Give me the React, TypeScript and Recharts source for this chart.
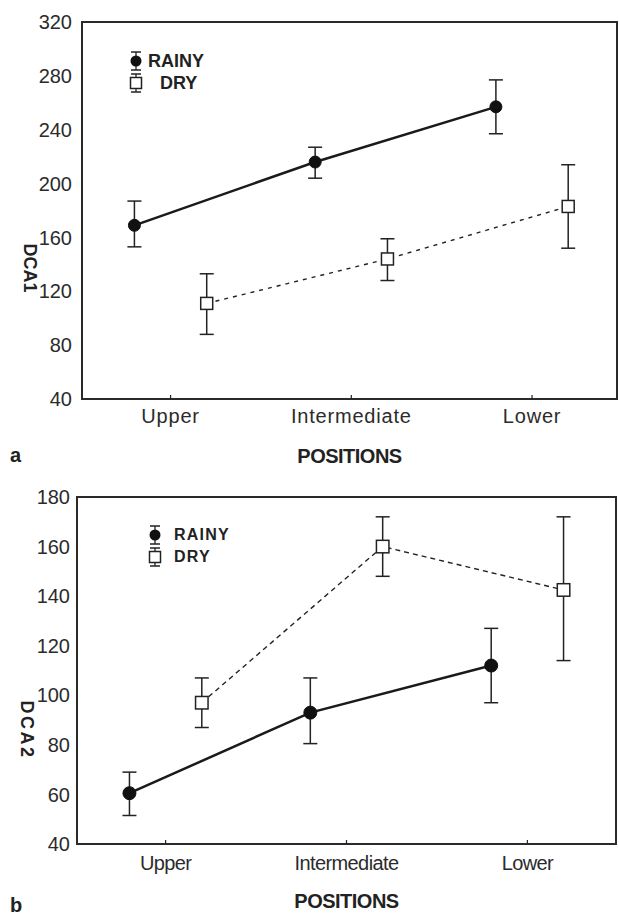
import React from 'react'
import { LineChart, Line, XAxis, YAxis, ErrorBar, ReferenceArea, Legend } from 'recharts'

const positions = ['Upper', 'Intermediate', 'Lower']
const seasons = ['RAINY', 'DRY']

// panel a - DCA1 (mean, lower and upper end of the bar)
const rainyDca1 = [169, 216, 257]
const rainyDca1Low = [153, 204, 237]
const rainyDca1High = [187, 227, 277]
const dryDca1 = [111, 144, 183]
const dryDca1Low = [88, 128, 152]
const dryDca1High = [133, 159, 214]
const dca1Ticks = [40, 80, 120, 160, 200, 240, 280, 320]

// panel b - DCA2
const rainyDca2 = [60.5, 93, 112]
const rainyDca2Low = [51.5, 80.5, 97]
const rainyDca2High = [69, 107, 127]
const dryDca2 = [97, 160, 142.5]
const dryDca2Low = [87, 148, 114]
const dryDca2High = [107, 172, 172]
const dca2Ticks = [40, 60, 80, 100, 120, 140, 160, 180]

const FONT = '"Liberation Sans", Arial, sans-serif'
const INK = '#222'
// rainy sits left of each position, dry to the right
const DODGE = 0.2

const toRows = (means: number[], low: number[], high: number[], shift: number) =>
  means.map((v, i) => ({ x: i + shift, y: v, err: [v - low[i], high[i] - v] }))

const squareDot = (size: number) => (props: any) => {
  const { cx, cy, key } = props
  if (cx == null || cy == null) return <g key={key} />
  return (
    <rect key={key} x={cx - size / 2} y={cy - size / 2} width={size} height={size}
      fill="#fff" stroke={INK} strokeWidth={1.5} />
  )
}

function LegendIcon({ kind }: { kind: string }) {
  return (
    <svg width={16} height={22} style={{ display: 'block' }}>
      <line x1={8} y1={2} x2={8} y2={20} stroke={INK} strokeWidth={1.3} />
      <line x1={3} y1={2} x2={13} y2={2} stroke={INK} strokeWidth={1.5} />
      <line x1={3} y1={20} x2={13} y2={20} stroke={INK} strokeWidth={1.5} />
      {kind === 'RAINY'
        ? <circle cx={8} cy={11} r={5.5} fill="#111" />
        : <rect x={2.5} y={5.5} width={11} height={11} fill="#fff" stroke={INK} strokeWidth={1.5} />}
    </svg>
  )
}

function makeLegend(fontSize: number, spacing: number, gap: number, dryIndent: number) {
  return ({ payload }: any) => {
    const items = [...(payload || [])].sort(
      (a: any, b: any) => seasons.indexOf(a.value) - seasons.indexOf(b.value)
    )
    return (
      <div style={{ fontFamily: FONT, fontWeight: 'bold', fontSize, letterSpacing: spacing, color: INK }}>
        {items.map((entry: any) => (
          <div key={entry.value} style={{ display: 'flex', alignItems: 'center', height: 22 }}>
            <LegendIcon kind={entry.value} />
            <span style={{ marginLeft: gap + (entry.value === 'DRY' ? dryIndent : 0), lineHeight: '22px' }}>
              {entry.value}
            </span>
          </div>
        ))}
      </div>
    )
  }
}

interface PanelProps {
  top: number
  height: number
  margin: { top: number; right: number; bottom: number; left: number }
  yAxisWidth: number
  xAxisHeight: number
  yDomain: [number, number]
  xDomain: [number, number]
  yTicks: number[]
  yTickMargin: number
  xTickMargin: number
  xLetterSpacing: number
  rainy: any[]
  dry: any[]
  dotR: number
  squareSize: number
  dash: string
  yLabel: string
  yLabelX: number
  yLabelY: number
  yLabelSpacing: number
  titleOffset: number
  legendPos: { left: number; top: number }
  legendFont: number
  legendSpacing: number
  legendGap: number
  dryIndent: number
  tag: string
  tagTop: number
}

function Panel(p: PanelProps) {
  return (
    <div style={{ position: 'absolute', left: 0, top: p.top, width: 619, height: p.height }}>
      <LineChart width={619} height={p.height} margin={p.margin}>
        <XAxis
          type="number"
          dataKey="x"
          domain={p.xDomain}
          ticks={[0, 1, 2]}
          interval={0}
          tickFormatter={(i: number) => positions[i]}
          axisLine={false}
          tickLine={{ stroke: INK, strokeWidth: 1.2 }}
          tickSize={-4}
          tickMargin={p.xTickMargin}
          height={p.xAxisHeight}
          tick={{ fontSize: 20, fill: '#2b2b2b', fontFamily: FONT, letterSpacing: p.xLetterSpacing }}
          label={{
            value: 'POSITIONS',
            position: 'insideBottom',
            offset: p.titleOffset,
            style: { fontSize: 20, fontWeight: 'bold', fill: INK, fontFamily: FONT, letterSpacing: -0.5 },
          }}
        />
        <YAxis
          type="number"
          domain={p.yDomain}
          ticks={p.yTicks}
          interval={0}
          width={p.yAxisWidth}
          axisLine={false}
          tickLine={false}
          tickMargin={p.yTickMargin}
          tick={{ fontSize: 20, fill: '#2b2b2b', fontFamily: FONT }}
          label={{
            value: p.yLabel,
            content: () => (
              <text x={p.yLabelX} y={p.yLabelY} transform={`rotate(90, ${p.yLabelX}, ${p.yLabelY})`}
                textAnchor="middle" fontSize={18} fontWeight="bold" fill={INK}
                fontFamily={FONT} letterSpacing={p.yLabelSpacing}>
                {p.yLabel}
              </text>
            ),
          }}
        />
        <ReferenceArea x1={p.xDomain[0]} x2={p.xDomain[1]} y1={p.yDomain[0]} y2={p.yDomain[1]}
          fill="none" stroke="#2a2a2a" strokeWidth={2} />
        <Legend
          layout="vertical"
          align="center"
          verticalAlign="middle"
          wrapperStyle={{ left: p.legendPos.left, top: p.legendPos.top, width: 'auto' }}
          content={makeLegend(p.legendFont, p.legendSpacing, p.legendGap, p.dryIndent)}
        />
        <Line
          name="RAINY"
          data={p.rainy}
          dataKey="y"
          type="linear"
          stroke="#1a1a1a"
          strokeWidth={2.5}
          dot={{ r: p.dotR, fill: '#111', stroke: '#111', strokeWidth: 1 }}
          activeDot={false}
          isAnimationActive={false}
        >
          <ErrorBar dataKey="err" direction="y" width={7} stroke={INK} strokeWidth={1.5} />
        </Line>
        <Line
          name="DRY"
          data={p.dry}
          dataKey="y"
          type="linear"
          stroke={INK}
          strokeWidth={1.4}
          strokeDasharray={p.dash}
          dot={squareDot(p.squareSize)}
          activeDot={false}
          isAnimationActive={false}
        >
          <ErrorBar dataKey="err" direction="y" width={7} stroke={INK} strokeWidth={1.5} />
        </Line>
      </LineChart>
      <div style={{ position: 'absolute', left: 10, top: p.tagTop, fontFamily: FONT, fontWeight: 'bold',
        fontSize: 20, color: INK, lineHeight: '20px' }}>
        {p.tag}
      </div>
    </div>
  )
}

export default function App() {
  return (
    <div style={{ position: 'absolute', left: 0, top: 0, width: 619, height: 917, background: '#fff' }}>
      <Panel
        top={0}
        height={470}
        margin={{ top: 22, right: 2, bottom: 0, left: 0 }}
        yAxisWidth={82}
        xAxisHeight={71}
        yDomain={[40, 320]}
        xDomain={[-0.49, 2.47]}
        yTicks={dca1Ticks}
        yTickMargin={4}
        xTickMargin={14}
        xLetterSpacing={0.8}
        rainy={toRows(rainyDca1, rainyDca1Low, rainyDca1High, -DODGE)}
        dry={toRows(dryDca1, dryDca1Low, dryDca1High, DODGE)}
        dotR={6}
        squareSize={12}
        dash="4 5"
        yLabel="DCA1"
        yLabelX={24}
        yLabelY={268}
        yLabelSpacing={0}
        titleOffset={7}
        legendPos={{ left: 128, top: 50 }}
        legendFont={18}
        legendSpacing={0}
        legendGap={4}
        dryIndent={12}
        tag="a"
        tagTop={445}
      />
      <Panel
        top={470}
        height={447}
        margin={{ top: 27, right: 3, bottom: 0, left: 0 }}
        yAxisWidth={77}
        xAxisHeight={73}
        yDomain={[40, 180]}
        xDomain={[-0.49, 2.49]}
        yTicks={dca2Ticks}
        yTickMargin={1}
        xTickMargin={16}
        xLetterSpacing={-0.6}
        rainy={toRows(rainyDca2, rainyDca2Low, rainyDca2High, -DODGE)}
        dry={toRows(dryDca2, dryDca2Low, dryDca2High, DODGE)}
        dotR={6.5}
        squareSize={12.5}
        dash="5 4"
        yLabel="DCA2"
        yLabelX={21}
        yLabelY={260}
        yLabelSpacing={2.5}
        titleOffset={9}
        legendPos={{ left: 147, top: 54 }}
        legendFont={16}
        legendSpacing={1.2}
        legendGap={11}
        dryIndent={0}
        tag="b"
        tagTop={425}
      />
    </div>
  )
}
